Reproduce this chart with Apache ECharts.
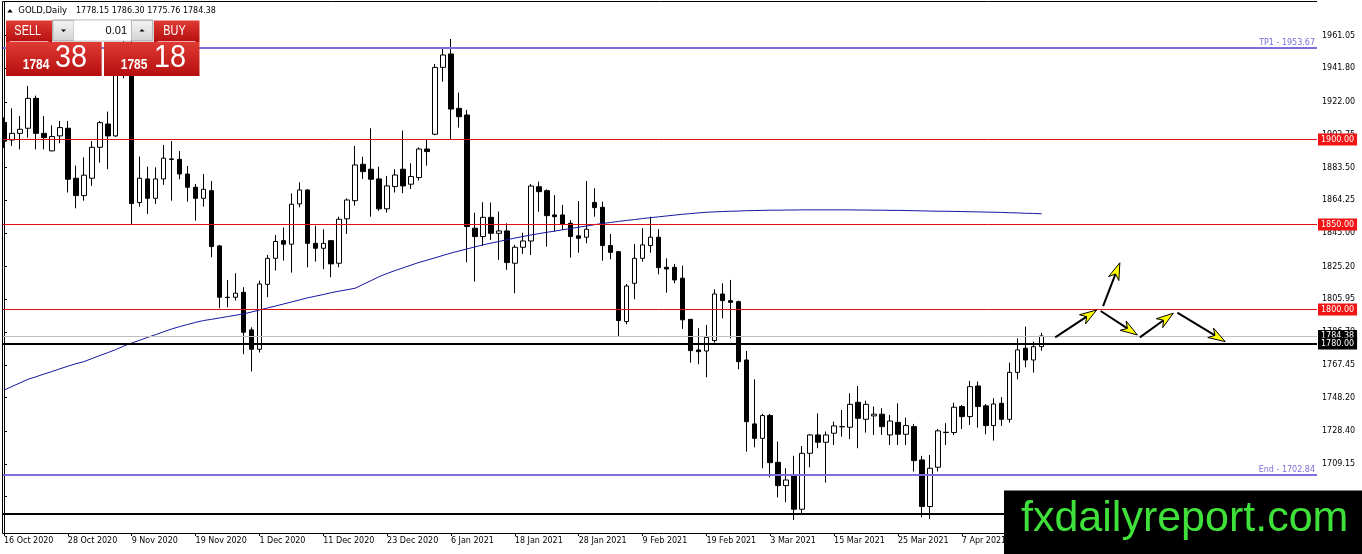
<!DOCTYPE html>
<html><head><meta charset="utf-8">
<script src="https://cdn.jsdelivr.net/npm/echarts@6/dist/echarts.min.js"></script>
<style>html,body{margin:0;padding:0;background:#fff}#c{width:1362px;height:554px}</style>
</head><body><div id="c"></div>
<script>
const dates = ['16 Oct 2020','19 Oct 2020','20 Oct 2020','21 Oct 2020','22 Oct 2020','23 Oct 2020','26 Oct 2020','27 Oct 2020','28 Oct 2020','29 Oct 2020','30 Oct 2020',
'2 Nov 2020','3 Nov 2020','4 Nov 2020','5 Nov 2020','6 Nov 2020','9 Nov 2020','10 Nov 2020','11 Nov 2020','12 Nov 2020','13 Nov 2020',
'16 Nov 2020','17 Nov 2020','18 Nov 2020','19 Nov 2020','20 Nov 2020','23 Nov 2020','24 Nov 2020','25 Nov 2020','26 Nov 2020','27 Nov 2020',
'30 Nov 2020','1 Dec 2020','2 Dec 2020','3 Dec 2020','4 Dec 2020','7 Dec 2020','8 Dec 2020','9 Dec 2020','10 Dec 2020','11 Dec 2020',
'14 Dec 2020','15 Dec 2020','16 Dec 2020','17 Dec 2020','18 Dec 2020','21 Dec 2020','22 Dec 2020','23 Dec 2020','24 Dec 2020','28 Dec 2020',
'29 Dec 2020','30 Dec 2020','31 Dec 2020','4 Jan 2021','5 Jan 2021','6 Jan 2021','7 Jan 2021','8 Jan 2021','11 Jan 2021','12 Jan 2021',
'13 Jan 2021','14 Jan 2021','15 Jan 2021','18 Jan 2021','19 Jan 2021','20 Jan 2021','21 Jan 2021','22 Jan 2021','25 Jan 2021','26 Jan 2021',
'27 Jan 2021','28 Jan 2021','29 Jan 2021','1 Feb 2021','2 Feb 2021','3 Feb 2021','4 Feb 2021','5 Feb 2021','8 Feb 2021','9 Feb 2021',
'10 Feb 2021','11 Feb 2021','12 Feb 2021','15 Feb 2021','16 Feb 2021','17 Feb 2021','18 Feb 2021','19 Feb 2021','22 Feb 2021','23 Feb 2021',
'24 Feb 2021','25 Feb 2021','26 Feb 2021','1 Mar 2021','2 Mar 2021','3 Mar 2021','4 Mar 2021','5 Mar 2021','8 Mar 2021','9 Mar 2021',
'10 Mar 2021','11 Mar 2021','12 Mar 2021','15 Mar 2021','16 Mar 2021','17 Mar 2021','18 Mar 2021','19 Mar 2021','22 Mar 2021','23 Mar 2021',
'24 Mar 2021','25 Mar 2021','26 Mar 2021','29 Mar 2021','30 Mar 2021','31 Mar 2021','1 Apr 2021','5 Apr 2021','6 Apr 2021','7 Apr 2021',
'8 Apr 2021','9 Apr 2021','12 Apr 2021','13 Apr 2021','14 Apr 2021','15 Apr 2021','16 Apr 2021','19 Apr 2021','20 Apr 2021','21 Apr 2021'];

const opens = [
1910,1899.7,1903.6,1906.6,1924.2,1903.6,1893.3,1902.1,1906.6,1877.2,
1867.0,1877.2,1895.4,1909.1,1902.1,1948,1951,1862.9,1876.8,1865.4,
1876.8,1888.2,1888.3,1879.7,1871.9,1865.4,1869.9,1837.4,1807.2,1807.2,
1810.1,1788.0,1776.6,1814.8,1830.1,1840.5,1838.4,1862.1,1870.3,1838.9,
1836.0,1840.5,1827.2,1853.3,1864.0,1885.4,1882.5,1876.8,1859.2,1872.3,
1882.5,1873.7,1877.6,1894.4,1903.1,1942.4,1950.3,1918.3,1914.4,1847.8,
1842.9,1854.2,1844.8,1846.2,1827.2,1836.6,1840.3,1872.2,1869.9,1855.6,
1855.6,1850.7,1843.3,1842.5,1863.0,1860.1,1837.6,1834.0,1792.9,1815.4,
1830.1,1837.6,1842.5,1824.8,1824.8,1818.4,1794.2,1776.2,1775.6,1781.7,
1809.1,1805.2,1804.6,1770.3,1732.7,1724.2,1737.6,1710.1,1696.4,1702.1,
1682.5,1715.4,1726.2,1721.9,1727.2,1731.0,1730.7,1745.4,1735.4,1737.4,
1738.4,1726.2,1733.6,1726.6,1731.1,1711.5,1684.1,1707.2,1727.6,1727.6,
1742.9,1737.0,1755.0,1743.3,1731.7,1744.8,1735.4,1763.0,1777.2,1770.3,
1778.15];
const highs = [
1913,1918.3,1913.8,1931.5,1925.8,1913.8,1908.3,1910.9,1910.9,1884.6,
1889.5,1899.1,1910.9,1916.4,1951,1960,1965.5,1890.0,1884.0,1883.6,
1896.8,1899.1,1893.2,1884.4,1873.8,1879.7,1875.6,1838.0,1817.4,1821.3,
1813.1,1789.5,1817.0,1832.1,1843.8,1848.2,1868.3,1874.8,1870.7,1849.3,
1847.2,1840.9,1854.6,1865.4,1896.2,1889.9,1906.6,1884.0,1878.6,1882.5,
1905.2,1886.0,1895.4,1899.7,1944.4,1953.2,1959.1,1927.6,1917.4,1857.0,
1863.1,1862.9,1857.6,1850.7,1838.0,1845.2,1873.8,1875.2,1870.7,1867.3,
1861.5,1852.6,1863.8,1875.6,1871.3,1863.4,1844.4,1834.4,1815.0,1838.5,
1847.8,1854.6,1847.2,1830.1,1826.8,1825.8,1794.4,1789.0,1790.9,1811.9,
1815.4,1817.4,1805.2,1775.6,1758.9,1738.6,1738.6,1722.3,1706.6,1713.9,
1719.7,1726.8,1738.9,1728.2,1734.0,1740.9,1750.7,1755.0,1746.4,1742.9,
1741.9,1738.0,1744.8,1736.4,1732.7,1713.9,1714.4,1729.7,1733.1,1745.2,
1743.8,1758.0,1757.6,1744.4,1747.8,1748.4,1768.7,1783.0,1789.9,1781.1,
1786.30];
const lows = [
1895,1896.2,1894.2,1901.1,1894.2,1894.2,1893.0,1897.8,1868.8,1859.5,
1864.0,1872.7,1886.4,1882.5,1901.5,1936,1850.2,1860.5,1856.2,1862.1,
1873.3,1864.0,1876.6,1863.4,1852.3,1860.5,1830.7,1800.7,1801.3,1805.2,
1773.7,1763.5,1774.7,1807.2,1822.9,1828.8,1821.7,1860.1,1824.8,1828.2,
1823.7,1819.0,1824.8,1844.4,1861.1,1876.8,1854.6,1858.0,1857.0,1868.8,
1868.4,1870.9,1875.8,1884.6,1902.5,1934.0,1900.3,1907.0,1827.8,1816.4,
1837.4,1840.9,1829.2,1823.3,1809.6,1832.7,1832.0,1857.5,1837.0,1845.8,
1846.8,1830.5,1833.4,1838.9,1854.6,1828.7,1829.5,1784.1,1791.3,1806.0,
1828.1,1833.4,1820.7,1809.9,1815.4,1788.6,1768.7,1767.8,1760.1,1780.5,
1794.8,1783.1,1764.8,1716.4,1718.9,1706.6,1701.3,1689.5,1686.6,1676.2,
1680.2,1707.2,1718.4,1698.2,1720.3,1725.2,1723.7,1718.4,1727.6,1726.2,
1726.2,1720.3,1720.3,1720.3,1704.7,1677.8,1676.8,1704.7,1720.3,1726.2,
1729.7,1732.1,1730.5,1726.6,1722.9,1731.5,1733.4,1758.9,1766.0,1762.9,
1775.76];
const closes = [
1899,1903.6,1906.0,1924.2,1903.6,1901.1,1901.7,1907.0,1876.6,1867.0,
1879.0,1895.4,1909.9,1902.1,1948,1951,1862.3,1877.2,1865.4,1876.8,
1889.0,1888.6,1879.7,1871.9,1865.4,1870.7,1837.0,1807.2,1807.0,1809.6,
1786.6,1776.6,1815.0,1830.1,1840.0,1838.4,1861.9,1870.3,1838.9,1836.0,
1838.9,1826.8,1853.1,1864.4,1885.0,1881.1,1876.6,1859.2,1872.7,1879.1,
1872.7,1878.2,1894.4,1892.9,1942.4,1949.7,1917.9,1913.4,1848.8,1842.9,
1854.2,1844.8,1846.2,1827.6,1836.6,1840.3,1872.6,1869.3,1855.2,1854.6,
1850.3,1842.9,1841.9,1847.2,1859.9,1837.6,1833.6,1793.5,1813.8,1830.1,
1838.0,1842.5,1824.6,1823.8,1817.4,1793.9,1775.8,1775.2,1783.6,1809.1,
1805.2,1804.2,1769.3,1734.0,1724.2,1737.6,1709.9,1696.4,1699.7,1682.5,
1715.4,1726.2,1721.9,1726.2,1731.5,1731.1,1744.2,1736.0,1744.2,1738.4,
1731.1,1734.4,1726.6,1731.7,1711.1,1684.1,1706.6,1728.6,1727.8,1742.5,
1737.0,1754.6,1742.9,1731.7,1744.4,1735.4,1763.0,1776.2,1770.3,1778.1,
1784.38];
const ma = [
1752.6,1754.7,1756.8,1758.9,
1760.4,1762.0,1763.5,1765.1,1766.6,1768.1,1769.3,
1771.1,1772.9,1774.6,1776.4,1778.5,1780.3,
1781.9,1783.6,1785.2,1786.9,1788.5,1789.9,
1791.2,1792.4,1793.5,1794.2,
1795.0,1795.8,1796.6,1797.4,
1798.5,1799.7,1800.9,1802.0,
1803.2,1804.4,1805.6,
1806.8,1807.8,1808.8,1809.9,
1810.8,1811.6,1812.5,
1814.8,1817.0,1819.3,
1821.2,1822.9,1824.5,1826.1,1827.7,
1829.0,1830.4,1831.8,1833.2,
1834.4,1835.6,1836.8,1838.0,
1839.0,1840.0,1841.0,1842.0,1842.9,1843.8,
1844.6,1845.4,1846.1,1846.9,1847.6,1848.4,1849.1,1849.9,1850.6,
1851.2,1851.8,1852.4,1852.9,1853.5,1854.0,
1854.5,1855.0,1855.5,1856.0,1856.4,1856.8,1857.2,
1857.4,1857.6,1857.8,1857.9,1858.1,1858.2,1858.3,
1858.4,1858.4,1858.5,1858.5,1858.6,
1858.6,1858.6,1858.6,1858.6,1858.6,
1858.6,1858.5,1858.5,1858.4,1858.4,
1858.3,1858.3,1858.2,1858.1,1858.0,
1857.9,1857.8,1857.8,1857.7,1857.6,
1857.5,1857.4,1857.3,1857.2,1857.1,
1856.9,1856.8,1856.6,1856.5,1856.3];
const yTicks = [1961.05,1941.80,1922.00,1902.75,1883.50,1864.25,1845.00,1825.20,1805.95,1786.70,1767.45,1748.20,1728.40,1709.15,1689.90];
const futureSlots = 34;
// arrows: [fromBar, fromPrice, toBar, toPrice]
const arrows = [[131.7,1783.6,136.9,1799.7],[137.7,1802.0,139.8,1827.5],[137.4,1799.1,142.0,1785.0],[142.3,1783.6,146.5,1797.8],[147.0,1798.1,153.0,1781.1]];
const quote = {sym:'GOLD,Daily', o:'1778.15', h:'1786.30', l:'1775.76', c:'1784.38', bidBig:'1784', bidSmall:'38', askBig:'1785', askSmall:'18', lot:'0.01'};

const cats = dates.concat(Array.from({length: futureSlots}, (_, i) => 'f' + i));
const nCats = cats.length;
const candles = dates.map((d, i) => [opens[i], closes[i], lows[i], highs[i]]);
const FONT = 'DejaVu Sans';
const showIdx = (i) => i % 8 === 0 && i < dates.length;
const RED = '#dd1111', LILAC = '#7b6fdc';

function axisLab(txt, bg) {
  return {show: true, position: 'end', formatter: txt, distance: 1, color: '#fff', backgroundColor: bg,
    padding: [2, 3, 1, 3], fontSize: 8, fontFamily: FONT, lineHeight: 9};
}

const chart = echarts.init(document.getElementById('c'), null, {renderer: 'canvas'});
function renderArrow(params, api) {
  const a = api.coord([api.value(0), api.value(1)]);
  const b = api.coord([api.value(2), api.value(3)]);
  const dx = b[0] - a[0], dy = b[1] - a[1];
  const len = Math.hypot(dx, dy);
  const ux = dx / len, uy = dy / len, nx = -uy, ny = ux;
  const hl = 16, hw = 5.5;
  const bx = b[0] - ux * hl, by = b[1] - uy * hl;
  return {type: 'group', children: [
    {type: 'line', shape: {x1: a[0], y1: a[1], x2: bx + ux * 4, y2: by + uy * 4}, style: {stroke: '#000', lineWidth: 2}},
    {type: 'polygon', shape: {points: [[b[0], b[1]], [bx + nx * hw - ux, by + ny * hw - uy], [bx + ux * 4, by + uy * 4], [bx - nx * hw - ux, by - ny * hw - uy]]},
      style: {fill: '#ffff00', stroke: '#000', lineWidth: 1}}
  ]};
}
const redGrad = () => new echarts.graphic.LinearGradient(0, 0, 0, 1, [{offset: 0, color: '#e03a34'}, {offset: 1, color: '#b50f0f'}]);
const grayGrad = () => new echarts.graphic.LinearGradient(0, 0, 0, 1, [{offset: 0, color: '#f4f4f4'}, {offset: 1, color: '#d4d4d4'}]);

chart.setOption({
  animation: false,
  backgroundColor: '#fff',
  grid: {left: -0.5, right: 45, top: 2, bottom: 21, containLabel: false},
  xAxis: [{
    type: 'category', data: cats, boundaryGap: true,
    axisLine: {show: true, lineStyle: {color: '#000', width: 1}},
    axisTick: {show: true, alignWithLabel: true, interval: showIdx, length: 3, lineStyle: {color: '#000'}},
    axisLabel: {interval: showIdx, align: 'left', margin: 4, fontSize: 8, fontFamily: FONT, color: '#000'},
    splitLine: {show: false}
  }, {
    type: 'value', min: -0.5, max: nCats - 0.5, show: false
  }],
  yAxis: {
    type: 'value', position: 'right', min: 1668.52, max: 1980.87, scale: true,
    axisLine: {show: true, lineStyle: {color: '#000', width: 1}},
    axisTick: {show: true, customValues: yTicks, length: 3, lineStyle: {color: '#000'}},
    axisLabel: {customValues: yTicks, formatter: v => v.toFixed(2), margin: 5, fontSize: 8, fontFamily: FONT, color: '#000'},
    splitLine: {show: false}
  },
  series: [{
    type: 'candlestick', data: candles, barWidth: 5, z: 2,
    itemStyle: {color: '#fff', color0: '#000', borderColor: '#000', borderColor0: '#000', borderWidth: 1},
    markLine: {
      symbol: ['none', 'none'], silent: true, animation: false, z: 4,
      data: [
        {yAxis: 1953.67, lineStyle: {color: LILAC, width: 2, type: 'solid'},
          label: {show: true, position: 'insideEndTop', formatter: 'TP1 - 1953.67', color: LILAC, fontSize: 8, fontFamily: FONT, distance: [2, 1]}},
        {yAxis: 1900, lineStyle: {color: RED, width: 1, type: 'solid', opacity: 1}, label: axisLab('1900.00', '#f01414')},
        {yAxis: 1850, lineStyle: {color: RED, width: 1, type: 'solid', opacity: 1}, label: axisLab('1850.00', '#f01414')},
        {yAxis: 1800, lineStyle: {color: RED, width: 1, type: 'solid', opacity: 1}, label: axisLab('1800.00', '#f01414')},
        {yAxis: 1784.38, lineStyle: {color: '#c0c0c0', width: 1, type: 'solid'}, label: axisLab('1784.38', '#000')},
        {yAxis: 1780, lineStyle: {color: '#000', width: 2, type: 'solid'}, label: axisLab('1780.00', '#000')},
        {yAxis: 1702.84, lineStyle: {color: LILAC, width: 2, type: 'solid'},
          label: {show: true, position: 'insideEndTop', formatter: 'End - 1702.84', color: LILAC, fontSize: 8, fontFamily: FONT, distance: [2, 1]}},
        {yAxis: 1680, lineStyle: {color: '#000', width: 2, type: 'solid'}, label: {show: false}}
      ]
    }
  }, {
    type: 'line', data: ma, symbol: 'none', showSymbol: false, silent: true, z: 3,
    lineStyle: {color: '#1616a0', width: 1}
  }, {
    type: 'custom', xAxisIndex: 1, yAxisIndex: 0, data: arrows, renderItem: renderArrow, clip: false, silent: true, z: 5
  }],
  graphic: {elements: [
    {type: 'rect', shape: {x: 0, y: 0, width: 2.5, height: 554}, style: {fill: '#fff'}, z: 50},
    {type: 'line', shape: {x1: 2.5, y1: 1.5, x2: 2.5, y2: 533.5}, style: {stroke: '#000', lineWidth: 1}, z: 51},
    {type: 'line', shape: {x1: 2.5, y1: 1.5, x2: 1317, y2: 1.5}, style: {stroke: '#000', lineWidth: 1}, z: 51},
    // header
    {type: 'polygon', shape: {points: [[7.3, 12.5], [12.7, 12.5], [10, 9]]}, style: {fill: '#000'}, z: 60},
    {type: 'text', x: 18.3, y: 10.8, style: {text: quote.sym, fontSize: 8.5, fontFamily: FONT, fill: '#000', verticalAlign: 'middle'}, z: 60},
    {type: 'text', x: 76, y: 10.8, style: {text: [quote.o, quote.h, quote.l, quote.c].join(' '), fontSize: 8, fontFamily: FONT, fill: '#000', verticalAlign: 'middle'}, z: 60},
    // SELL header
    {type: 'rect', shape: {x: 6, y: 20.5, width: 46, height: 21.5}, style: {fill: redGrad()}, z: 60},
    {type: 'text', x: 27.7, y: 31.2, scaleX: 0.78, style: {text: 'SELL', fontSize: 14, fontFamily: 'Liberation Sans', fill: '#fff', align: 'center', verticalAlign: 'middle'}, z: 61},
    {type: 'line', shape: {x1: 9.5, y1: 41.5, x2: 48.5, y2: 41.5}, style: {stroke: '#f3a6a6', lineWidth: 1}, z: 61},
    // SELL price
    {type: 'rect', shape: {x: 6, y: 42, width: 95.7, height: 34}, style: {fill: redGrad()}, z: 60},
    {type: 'text', x: 22.7, y: 65.2, scaleX: 0.86, style: {text: quote.bidBig, fontSize: 14, fontWeight: 'bold', fontFamily: 'Liberation Sans', fill: '#fff', verticalAlign: 'middle'}, z: 61},
    {type: 'text', x: 55, y: 58.5, scaleX: 0.9, style: {text: quote.bidSmall, fontSize: 32, fontFamily: 'Liberation Sans', fill: '#fff', verticalAlign: 'middle'}, z: 61},
    // lot field
    {type: 'rect', shape: {x: 52.5, y: 20, width: 100.5, height: 21}, style: {fill: '#f2f2f2', stroke: '#a8a8a8', lineWidth: 1}, z: 60},
    {type: 'rect', shape: {x: 53, y: 20.5, width: 21, height: 20}, style: {fill: grayGrad(), stroke: '#b8b8b8', lineWidth: 1}, z: 61},
    {type: 'polygon', shape: {points: [[61, 29.5], [66, 29.5], [63.5, 32]]}, style: {fill: '#000'}, z: 62},
    {type: 'rect', shape: {x: 74, y: 20.5, width: 57.5, height: 20}, style: {fill: '#fff'}, z: 61},
    {type: 'text', x: 127, y: 30.8, style: {text: quote.lot, fontSize: 11, fontFamily: 'Liberation Sans', fill: '#000', align: 'right', verticalAlign: 'middle'}, z: 62},
    {type: 'rect', shape: {x: 131.5, y: 20.5, width: 21, height: 20}, style: {fill: grayGrad(), stroke: '#b8b8b8', lineWidth: 1}, z: 61},
    {type: 'polygon', shape: {points: [[139.5, 31.5], [144.5, 31.5], [142, 29]]}, style: {fill: '#000'}, z: 62},
    // BUY header
    {type: 'rect', shape: {x: 154, y: 20.5, width: 45.5, height: 21.5}, style: {fill: redGrad()}, z: 60},
    {type: 'text', x: 174.5, y: 31.2, scaleX: 0.78, style: {text: 'BUY', fontSize: 14, fontFamily: 'Liberation Sans', fill: '#fff', align: 'center', verticalAlign: 'middle'}, z: 61},
    {type: 'line', shape: {x1: 157.5, y1: 41.5, x2: 195.5, y2: 41.5}, style: {stroke: '#f3a6a6', lineWidth: 1}, z: 61},
    // BUY price
    {type: 'rect', shape: {x: 104, y: 42, width: 95.5, height: 34}, style: {fill: redGrad()}, z: 60},
    {type: 'text', x: 120.7, y: 65.2, scaleX: 0.86, style: {text: quote.askBig, fontSize: 14, fontWeight: 'bold', fontFamily: 'Liberation Sans', fill: '#fff', verticalAlign: 'middle'}, z: 61},
    {type: 'text', x: 154, y: 58.5, scaleX: 0.9, style: {text: quote.askSmall, fontSize: 32, fontFamily: 'Liberation Sans', fill: '#fff', verticalAlign: 'middle'}, z: 61},
    // watermark box
    {type: 'rect', shape: {x: 1004, y: 490.5, width: 358, height: 63.5}, style: {fill: '#000'}, z: 70},
    {type: 'text', x: 1021, y: 519, style: {text: 'fxdailyreport.com', fontSize: 43, fontFamily: 'Liberation Sans', fill: '#3fe03a', verticalAlign: 'middle'}, z: 71}
  ]}
});
</script>
</body></html>
